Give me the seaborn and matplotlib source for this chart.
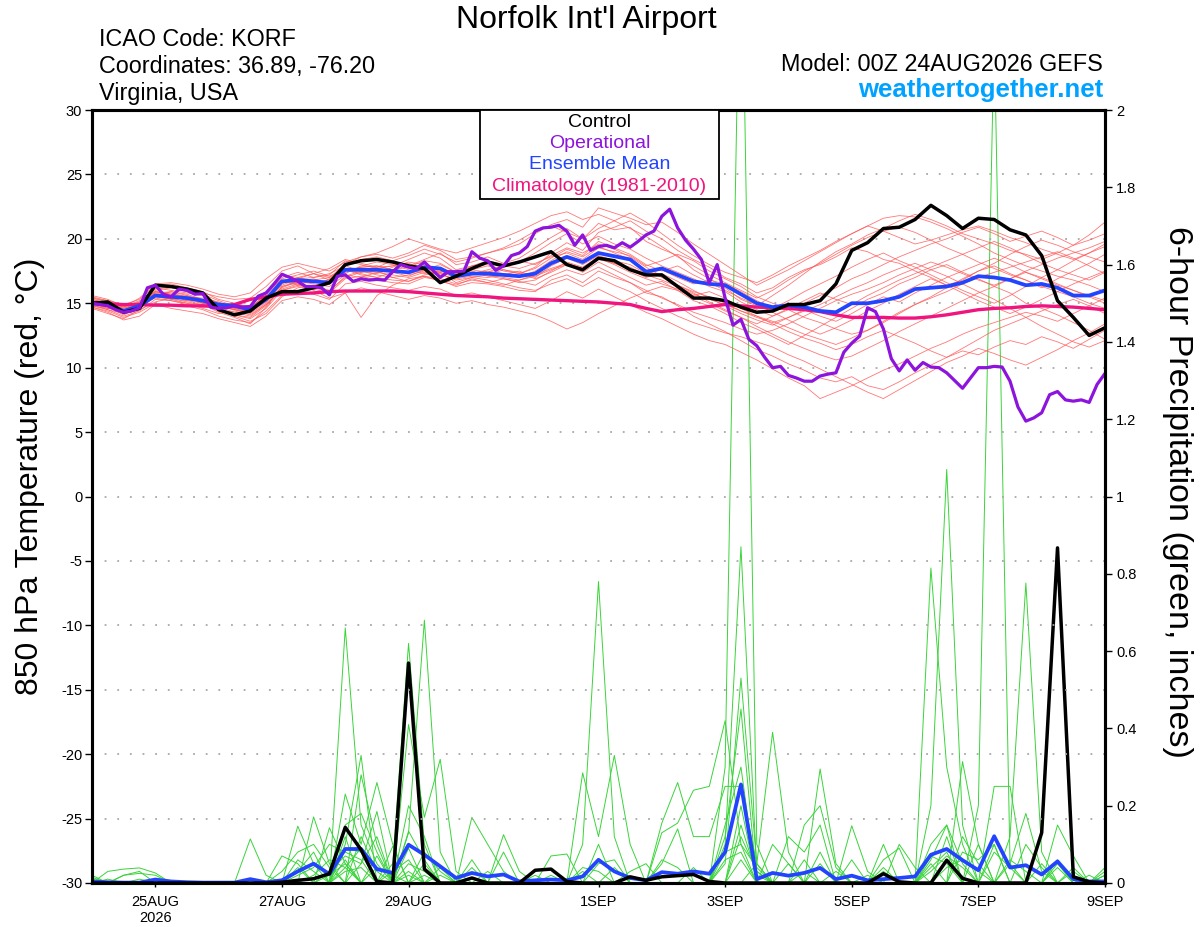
import matplotlib
matplotlib.use("Agg")

import matplotlib.pyplot as plt
from matplotlib.patches import Rectangle
import numpy as np
import pandas as pd
import seaborn as sns

# 6-hourly ensemble steps and 3-hourly operational steps, 00Z 24AUG2026 run
times = pd.date_range("2026-08-24 00:00", periods=65, freq="6h")
op_times = pd.date_range("2026-08-24 00:00", periods=129, freq="3h")

tick_dates = pd.to_datetime(["2026-08-25", "2026-08-27", "2026-08-29", "2026-09-01",
                             "2026-09-03", "2026-09-05", "2026-09-07", "2026-09-09"])
tick_labels = ["25AUG\n2026", "27AUG", "29AUG", "1SEP", "3SEP", "5SEP", "7SEP", "9SEP"]
temp_ticks = [-30, -25, -20, -15, -10, -5, 0, 5, 10, 15, 20, 25, 30]
precip_ticks = [0, 0.2, 0.4, 0.6, 0.8, 1.0, 1.2, 1.4, 1.6, 1.8, 2.0]
precip_tick_labels = ["0", "0.2", "0.4", "0.6", "0.8", "1", "1.2", "1.4", "1.6", "1.8", "2"]

# 850 hPa temperature (C)
control_temp = [
    15.0, 15.1, 14.3, 14.6, 16.4, 16.3, 16.1, 15.8, 14.5, 14.1, 14.4, 15.4, 15.9,
    15.9, 16.2, 16.6, 18.0, 18.3, 18.4, 18.2, 17.9, 17.7, 16.6, 17.1, 17.7, 18.2,
    17.9, 18.2, 18.6, 19.0, 18.0, 17.6, 18.5, 18.3, 17.6, 17.2, 17.2, 16.3, 15.4,
    15.4, 15.2, 14.7, 14.3, 14.4, 14.9, 14.9, 15.2, 16.5, 19.1, 19.7, 20.8, 20.9,
    21.5, 22.6, 21.8, 20.8, 21.6, 21.5, 20.7, 20.3, 18.7, 15.2, 13.9, 12.5, 13.1,
]
mean_temp = [
    15.0, 14.9, 14.4, 14.8, 15.6, 15.5, 15.4, 15.2, 14.9, 14.8, 14.5, 15.3, 16.7,
    16.8, 16.7, 16.6, 17.6, 17.6, 17.6, 17.5, 17.4, 17.8, 17.7, 17.1, 17.3, 17.3,
    17.2, 17.1, 17.3, 18.1, 18.6, 18.2, 18.9, 18.65, 18.4, 17.45, 17.7, 17.2, 16.7,
    16.5, 16.4, 15.7, 15.0, 14.7, 14.85, 14.7, 14.4, 14.3, 15.0, 15.0, 15.2, 15.5,
    16.1, 16.2, 16.3, 16.6, 17.1, 17.0, 16.8, 16.4, 16.5, 16.2, 15.6, 15.6, 16.0,
]
clim_temp = [
    15.0, 14.95, 14.9, 14.9, 14.85, 14.85, 14.8, 14.8, 14.75, 14.9, 15.3, 15.5, 15.7,
    15.75, 15.8, 15.9, 15.95, 15.95, 15.95, 15.95, 15.9, 15.8, 15.7, 15.6, 15.55, 15.5,
    15.4, 15.35, 15.3, 15.25, 15.2, 15.15, 15.1, 15.0, 14.9, 14.6, 14.35, 14.5, 14.6,
    14.75, 14.9, 14.8, 14.7, 14.65, 14.6, 14.5, 14.35, 14.1, 13.9, 13.9, 13.9, 13.85,
    13.85, 13.95, 14.1, 14.3, 14.5, 14.6, 14.65, 14.75, 14.8, 14.75, 14.7, 14.6, 14.5,
]
oper_temp = [
    15.0, 14.9, 14.8, 14.5, 14.3, 14.4, 14.65, 16.2, 16.4, 15.7,
    15.5, 16.1, 16.0, 15.7, 15.75, 14.7, 14.6, 14.65, 14.8, 14.7,
    14.75, 15.55, 15.8, 16.5, 17.25, 17.0, 16.7, 16.3, 16.3, 16.2,
    15.65, 17.1, 17.2, 16.7, 16.9, 16.8, 16.85, 16.8, 17.45, 18.0,
    17.8, 17.7, 18.2, 17.6, 17.0, 17.45, 17.45, 17.5, 19.0, 18.5,
    18.3, 17.55, 17.9, 18.7, 18.9, 19.4, 20.6, 20.85, 20.9, 21.05,
    20.6, 19.5, 20.3, 19.1, 19.4, 19.5, 19.3, 19.7, 19.35, 19.8,
    20.3, 20.6, 21.75, 22.3, 20.85, 19.9, 19.2, 18.4, 16.6, 18.0,
    15.4, 13.3, 13.75, 12.2, 11.7, 10.8, 10.0, 10.1, 9.4, 9.2,
    8.95, 8.95, 9.35, 9.5, 9.6, 11.2, 11.9, 12.45, 14.65, 14.35,
    13.0, 10.7, 9.75, 10.6, 9.8, 10.4, 10.05, 10.0, 9.6, 9.0,
    8.4, 9.2, 10.0, 10.0, 10.1, 10.05, 8.95, 6.95, 5.85, 6.1,
    6.5, 7.9, 8.15, 7.5, 7.4, 7.5, 7.3, 8.7, 9.55,
]

member_temps = [
    [15.3, 15.0, 14.6, 15.1, 16.2, 16.0, 15.8, 15.6, 15.0, 14.6, 14.3, 15.1, 16.4,
     16.9, 17.3, 16.8, 17.9, 18.4, 18.6, 18.3, 17.9, 18.4, 18.9, 18.0, 18.2, 18.6,
     18.1, 18.5, 19.3, 20.1, 20.8, 20.0, 21.2, 20.7, 20.9, 19.8, 19.2, 18.7, 17.6,
     16.9, 16.2, 15.3, 14.8, 15.6, 16.4, 17.3, 18.2, 19.0, 19.6, 20.3, 20.8, 21.4,
     21.9, 21.5, 21.0, 20.4, 20.0, 19.6, 19.1, 18.8, 18.4, 18.9, 19.5, 20.3, 21.3],
    [14.8, 14.5, 14.0, 14.4, 15.3, 15.2, 15.0, 14.9, 14.4, 14.1, 13.8, 14.6, 16.0,
     16.3, 16.1, 15.8, 16.9, 17.1, 16.8, 16.6, 16.5, 17.0, 16.8, 16.3, 16.6, 16.5,
     16.3, 16.0, 15.9, 16.8, 17.2, 16.6, 17.5, 17.0, 16.6, 15.8, 15.5, 14.8, 14.0,
     13.4, 12.8, 12.1, 11.4, 10.9, 10.3, 9.8, 9.2, 8.9, 9.3, 8.6, 8.3, 8.9,
     9.6, 10.2, 10.8, 11.3, 11.0, 11.6, 12.1, 11.8, 12.4, 12.0, 11.5, 12.2, 12.9],
    [15.5, 15.2, 14.9, 15.3, 16.4, 16.5, 16.2, 15.9, 15.3, 15.0, 14.7, 15.6, 17.0,
     17.4, 17.0, 17.2, 18.3, 18.0, 17.7, 17.9, 18.4, 18.9, 18.5, 17.6, 17.9, 18.0,
     17.5, 17.3, 17.8, 18.9, 19.7, 19.1, 20.5, 20.9, 21.4, 20.6, 20.0, 19.1, 18.4,
     17.8, 17.0, 16.5, 15.8, 16.2, 17.0, 17.6, 18.0, 18.6, 19.3, 19.0, 18.4, 18.1,
     17.5, 17.0, 16.4, 16.8, 17.5, 18.1, 18.8, 19.4, 19.9, 19.5, 19.0, 18.6, 18.2],
    [14.6, 14.2, 13.8, 14.5, 15.1, 15.4, 15.6, 15.0, 14.5, 14.0, 13.6, 14.2, 15.5,
     16.2, 16.4, 16.0, 17.0, 17.4, 17.5, 17.0, 16.7, 17.2, 17.4, 16.6, 17.0, 17.2,
     17.6, 17.4, 16.9, 17.4, 18.0, 17.4, 18.2, 17.6, 17.0, 16.4, 16.7, 16.0, 15.2,
     14.8, 14.2, 13.5, 13.0, 12.4, 11.8, 12.5, 13.2, 13.9, 14.6, 15.3, 15.8, 16.5,
     17.0, 17.6, 18.0, 17.4, 16.9, 16.3, 15.8, 15.0, 14.6, 14.1, 13.5, 12.9, 12.2],
    [15.1, 14.9, 14.3, 14.7, 15.8, 15.6, 15.2, 15.0, 14.8, 14.9, 14.8, 15.9, 16.8,
     16.5, 16.3, 16.9, 17.3, 17.9, 18.2, 18.0, 17.6, 17.3, 17.5, 17.2, 17.6, 17.4,
     17.9, 17.7, 18.1, 18.6, 18.9, 18.4, 19.3, 19.0, 18.7, 17.9, 18.3, 18.8, 18.3,
     17.5, 16.9, 16.3, 15.5, 15.0, 14.5, 13.9, 13.5, 13.0, 12.6, 12.9, 13.5, 14.2,
     14.9, 15.5, 16.2, 16.9, 17.5, 17.9, 17.3, 16.8, 16.2, 16.9, 17.5, 18.1, 18.8],
    [15.0, 14.7, 14.1, 14.6, 15.5, 15.3, 15.0, 14.6, 14.2, 14.4, 14.1, 14.9, 16.1,
     16.5, 16.0, 15.4, 15.8, 13.9, 15.6, 16.4, 16.9, 17.1, 16.7, 16.4, 16.9, 16.6,
     16.4, 16.8, 17.2, 17.7, 18.1, 17.7, 18.5, 18.0, 17.4, 16.9, 16.5, 16.1, 15.6,
     15.9, 15.4, 14.6, 14.0, 13.4, 12.8, 12.3, 11.9, 11.4, 11.8, 12.4, 12.9, 12.4,
     11.9, 11.3, 10.8, 11.5, 12.2, 12.9, 13.4, 13.9, 14.4, 14.9, 15.3, 14.8, 14.2],
    [15.4, 15.1, 14.7, 15.2, 16.1, 16.3, 16.0, 15.8, 15.5, 15.3, 15.4, 16.3, 17.5,
     17.9, 17.3, 17.0, 18.0, 18.6, 18.8, 18.5, 18.9, 19.5, 19.1, 18.4, 18.6, 18.9,
     19.2, 19.6, 20.4, 21.1, 21.5, 20.9, 22.4, 22.0, 21.6, 21.1, 21.3, 20.5, 19.6,
     18.8, 18.0, 17.2, 16.4, 17.0, 17.6, 18.3, 19.0, 19.7, 20.4, 21.0, 21.6, 21.8,
     21.7, 21.3, 20.8, 20.2, 19.6, 18.9, 18.4, 17.9, 17.5, 17.1, 16.8, 16.4, 15.9],
    [14.7, 14.4, 13.9, 14.3, 15.0, 14.9, 14.8, 14.5, 14.0, 13.7, 13.5, 14.4, 15.6,
     15.9, 15.7, 15.3, 16.5, 16.7, 16.4, 16.2, 16.0, 16.3, 16.1, 15.6, 15.8, 15.5,
     15.2, 14.9, 14.6, 15.2, 15.9, 15.4, 16.1, 15.5, 14.9, 14.3, 13.8, 13.2, 12.6,
     12.1, 11.8, 11.2, 10.6, 9.9, 9.2, 8.6, 7.6, 8.1, 8.6, 9.2, 9.8, 10.3,
     10.9, 11.5, 12.0, 12.6, 13.1, 13.5, 13.9, 14.3, 14.0, 13.6, 14.2, 14.8, 15.4],
    [15.2, 14.8, 14.2, 14.8, 15.7, 15.4, 15.1, 14.9, 14.3, 13.9, 13.4, 14.7, 16.3,
     16.6, 16.2, 15.9, 17.1, 17.5, 17.2, 17.0, 17.2, 17.5, 17.3, 16.8, 17.0, 16.8,
     16.5, 16.2, 16.0, 16.5, 16.9, 16.3, 17.0, 16.4, 15.9, 15.2, 14.6, 14.0, 13.5,
     13.1, 12.7, 12.4, 12.0, 11.6, 11.0, 10.5, 9.9, 9.3, 8.7, 8.1, 7.6, 8.3,
     9.0, 9.7, 10.4, 10.9, 11.5, 11.1, 10.6, 10.2, 10.8, 11.4, 12.1, 12.7, 13.4],
    [15.0, 14.6, 14.4, 14.9, 15.9, 15.7, 15.5, 15.4, 15.1, 14.7, 14.4, 15.2, 16.6,
     16.9, 17.0, 17.3, 17.9, 17.5, 17.3, 17.8, 18.2, 18.0, 17.6, 17.3, 17.9, 18.3,
     18.0, 18.2, 18.9, 19.7, 20.4, 19.6, 20.2, 19.6, 19.2, 18.5, 17.9, 17.4, 16.9,
     16.3, 15.9, 15.1, 14.5, 14.0, 14.5, 15.0, 15.6, 16.2, 16.9, 17.4, 18.0, 18.6,
     19.1, 19.6, 20.0, 20.5, 20.9, 20.4, 19.8, 20.2, 20.6, 20.1, 19.5, 19.9, 20.4],
    [14.9, 14.5, 14.2, 14.6, 15.6, 15.9, 15.7, 15.3, 14.9, 14.5, 14.3, 15.4, 16.9,
     17.2, 17.5, 17.1, 17.6, 17.3, 17.0, 17.4, 17.1, 17.6, 18.0, 17.4, 17.5, 17.1,
     16.9, 16.6, 16.8, 17.5, 18.2, 17.8, 18.6, 18.1, 17.6, 17.0, 17.3, 16.7, 16.0,
     15.4, 14.8, 14.2, 13.7, 13.3, 13.9, 14.5, 14.0, 13.6, 14.2, 14.9, 15.5, 15.1,
     15.8, 16.4, 17.0, 17.5, 18.0, 18.5, 18.0, 17.4, 16.9, 16.4, 16.0, 15.6, 15.2],
    [15.6, 15.3, 14.8, 15.0, 16.0, 16.2, 15.9, 15.7, 15.2, 14.8, 14.6, 15.8, 17.2,
     17.0, 16.7, 16.5, 17.4, 17.8, 17.9, 17.6, 17.4, 17.9, 17.7, 17.0, 17.2, 17.5,
     17.3, 17.0, 17.5, 18.3, 19.0, 18.6, 19.4, 18.9, 18.4, 17.6, 17.0, 16.4, 15.8,
     15.1, 14.5, 13.9, 13.4, 14.0, 14.6, 15.2, 15.8, 15.3, 14.9, 15.6, 16.2, 16.8,
     17.3, 17.8, 18.3, 18.8, 19.3, 19.8, 19.3, 18.7, 18.1, 17.6, 17.2, 16.8, 17.4],
    [14.8, 14.6, 14.5, 14.9, 15.4, 15.2, 14.9, 14.7, 14.7, 14.5, 14.2, 15.0, 16.2,
     16.7, 16.5, 16.3, 17.2, 17.0, 17.4, 17.2, 17.0, 17.4, 17.2, 16.9, 17.1, 17.0,
     17.2, 17.5, 17.0, 17.9, 18.5, 18.0, 18.7, 18.3, 18.0, 17.3, 17.6, 17.0, 16.5,
     16.8, 16.5, 15.9, 15.2, 14.6, 15.2, 15.9, 16.5, 17.1, 17.8, 18.4, 18.9, 18.3,
     17.8, 17.2, 16.6, 16.0, 15.5, 15.0, 15.6, 16.3, 17.0, 17.6, 18.3, 18.9, 19.6],
    [15.3, 15.0, 14.3, 14.8, 15.7, 15.5, 15.3, 15.1, 14.5, 14.1, 13.9, 14.8, 16.3,
     16.7, 16.9, 16.5, 17.5, 17.8, 17.9, 17.6, 17.8, 18.3, 18.1, 17.4, 17.6, 17.9,
     17.6, 17.3, 17.7, 18.5, 19.2, 18.7, 19.8, 19.3, 18.8, 18.0, 17.5, 17.9, 17.2,
     16.6, 16.0, 15.4, 14.9, 14.3, 13.7, 13.1, 12.6, 13.1, 13.7, 14.4, 15.0, 15.7,
     16.3, 16.9, 16.4, 15.8, 15.2, 14.7, 14.2, 14.7, 15.3, 15.9, 16.5, 17.0, 17.5],
    [15.1, 14.9, 14.6, 15.0, 15.9, 15.7, 15.4, 15.0, 14.8, 14.6, 14.5, 15.5, 16.7,
     16.4, 16.2, 16.5, 17.6, 17.2, 17.0, 16.8, 16.7, 17.1, 16.9, 16.5, 16.8, 16.6,
     16.9, 16.7, 16.4, 17.1, 17.6, 17.2, 17.8, 17.2, 16.6, 16.0, 15.4, 14.9, 14.3,
     13.9, 13.5, 13.0, 12.6, 12.9, 13.4, 14.0, 14.6, 15.2, 15.7, 16.1, 16.6, 17.2,
     17.7, 18.2, 17.8, 17.3, 16.8, 16.4, 16.9, 17.5, 18.0, 18.5, 18.9, 19.3, 19.8],
    [14.9, 14.7, 14.4, 14.7, 15.6, 15.3, 15.2, 15.2, 14.9, 14.8, 14.7, 15.5, 16.6,
     16.8, 16.6, 16.8, 17.7, 17.6, 17.4, 17.5, 17.3, 17.6, 17.4, 17.0, 17.4, 17.2,
     17.0, 16.8, 17.1, 17.6, 18.0, 17.5, 18.4, 18.1, 17.8, 17.2, 16.8, 16.3, 15.7,
     15.3, 14.9, 14.4, 14.0, 13.6, 13.1, 12.6, 12.2, 11.8, 12.3, 12.9, 13.6, 14.3,
     14.9, 15.4, 15.9, 16.5, 17.0, 17.4, 17.8, 18.2, 18.6, 19.0, 18.5, 17.9, 17.3],
    [15.2, 14.9, 14.7, 15.4, 16.5, 16.6, 16.4, 16.1, 15.7, 15.5, 15.8, 16.9, 17.8,
     18.1, 17.8, 17.5, 18.2, 18.6, 18.9, 19.4, 20.0, 19.6, 19.2, 18.9, 19.3, 19.7,
     20.1, 20.6, 21.2, 21.8, 22.1, 21.5, 21.9, 21.4, 20.8, 20.2, 19.4, 18.6, 17.9,
     17.2, 16.6, 16.0, 15.4, 16.0, 16.8, 17.5, 18.1, 18.8, 19.5, 20.1, 20.6, 20.9,
     20.5, 19.9, 19.3, 18.8, 18.2, 17.7, 17.2, 16.8, 16.3, 15.9, 15.5, 15.0, 14.6],
    [14.7, 14.3, 13.7, 14.0, 14.9, 14.6, 14.4, 14.2, 13.8, 13.5, 13.2, 14.0, 15.2,
     15.5, 15.3, 14.9, 15.8, 16.2, 15.9, 15.6, 15.3, 15.6, 15.4, 15.0, 15.2, 14.9,
     14.7, 14.4, 14.1, 13.6, 13.0, 13.5, 14.2, 14.8, 15.4, 15.9, 16.3, 16.0, 15.5,
     15.0, 14.4, 13.9, 13.2, 12.6, 12.0, 11.5, 11.0, 10.6, 10.9, 11.5, 12.1, 12.8,
     13.4, 14.0, 14.6, 15.2, 15.8, 16.3, 16.9, 17.4, 17.0, 16.5, 16.0, 15.5, 15.0],
    [15.0, 14.8, 14.5, 15.0, 15.8, 15.9, 15.6, 15.3, 14.8, 14.5, 14.4, 15.2, 16.5,
     17.0, 17.3, 17.7, 18.4, 18.1, 17.8, 18.3, 18.7, 19.2, 18.8, 18.2, 18.5, 18.9,
     19.3, 19.9, 20.6, 21.0, 20.5, 20.0, 20.8, 21.4, 22.0, 21.3, 20.4, 19.5, 18.7,
     18.0, 17.4, 17.0, 16.6, 17.2, 17.9, 18.5, 19.1, 19.8, 20.4, 21.0, 20.6, 20.1,
     19.6, 19.9, 20.3, 20.7, 21.0, 20.6, 20.1, 19.7, 19.2, 18.8, 18.4, 18.9, 19.4],
    [15.4, 15.2, 14.7, 15.1, 15.9, 15.8, 15.5, 15.2, 14.7, 14.3, 14.0, 14.9, 16.0,
     16.4, 16.8, 17.0, 17.6, 17.4, 17.8, 17.9, 18.1, 17.7, 17.5, 17.1, 17.3, 17.6,
     17.9, 18.3, 18.0, 18.7, 19.3, 18.9, 19.6, 19.2, 18.6, 17.8, 17.1, 16.4, 15.9,
     15.5, 15.0, 14.4, 13.9, 13.5, 13.9, 14.4, 14.9, 15.5, 16.1, 16.6, 17.2, 17.7,
     18.1, 17.6, 17.1, 16.5, 15.9, 15.3, 14.6, 13.9, 13.2, 12.6, 12.0, 11.6, 12.1],
]

# 6-hour precipitation (inches)
control_precip = [
    0, 0, 0, 0, 0, 0, 0, 0, 0, 0, 0, 0, 0.002,
    0.007, 0.011, 0.024, 0.144, 0.086, 0.004, 0, 0.569, 0.036, 0, 0, 0.013, 0,
    0, 0, 0.033, 0.036, 0.004, 0, 0, 0, 0.016, 0.007, 0.016, 0.019, 0.022,
    0.004, 0, 0, 0, 0, 0, 0, 0, 0, 0, 0, 0.024, 0.003,
    0, 0, 0.059, 0.012, 0, 0, 0, 0, 0.13, 0.867, 0.016, 0.003, 0,
]
mean_precip = [
    0.004, 0.002, 0.001, 0.001, 0.009, 0.004, 0.002, 0.001, 0.001, 0.001, 0.01, 0.002, 0.007,
    0.03, 0.05, 0.023, 0.088, 0.088, 0.036, 0.026, 0.099, 0.073, 0.043, 0.013, 0.026, 0.017,
    0.022, 0.004, 0.007, 0.009, 0.007, 0.017, 0.06, 0.03, 0.013, 0.007, 0.028, 0.024, 0.03,
    0.024, 0.08, 0.255, 0.01, 0.026, 0.019, 0.026, 0.039, 0.01, 0.019, 0.007, 0.01, 0.013,
    0.017, 0.073, 0.088, 0.059, 0.033, 0.121, 0.04, 0.046, 0.022, 0.056, 0.01, 0.004, 0.004,
]

member_precip = [
    [.02, 0, .02, .03, 0, 0, 0, 0, 0, 0, 0, 0, 0,
     0, 0, 0, .66, .15, .05, 0, .02, 0, 0, 0, 0, 0,
     0, 0, 0, 0, 0, 0, .10, 0, 0, 0, 0, 0, 0,
     0, .30, 2.6, .10, 0, 0, 0, 0, 0, 0, 0, 0, 0,
     0, .10, .15, 0, 0, .10, 0, 0, 0, 0, 0, 0, 0],
    [.01, 0, 0, 0, 0, 0, 0, 0, 0, 0, 0, 0, 0,
     .03, .08, 0, 0, 0, 0, .05, .62, .10, 0, 0, 0, 0,
     0, 0, 0, 0, 0, 0, 0, 0, 0, 0, 0, 0, 0,
     0, .10, .87, .03, 0, 0, 0, .05, 0, 0, 0, 0, 0,
     0, 0, 0, 0, .20, 2.2, .05, 0, 0, 0, 0, 0, 0],
    [0, 0, 0, 0, 0, 0, 0, 0, 0, 0, 0, 0, 0,
     0, 0, 0, .10, .33, 0, 0, .13, .68, .08, 0, 0, 0,
     0, 0, 0, 0, 0, .10, .78, .12, 0, 0, 0, 0, 0,
     0, 0, 0, 0, 0, 0, 0, 0, 0, 0, 0, 0, 0,
     0, .20, 1.07, .15, 0, 0, 0, 0, 0, 0, 0, 0, 0],
    [0, 0, 0, 0, 0, 0, 0, 0, 0, 0, 0, 0, 0,
     0, 0, 0, 0, .28, .10, 0, .41, .17, .32, .03, 0, 0,
     0, 0, 0, 0, 0, 0, 0, 0, 0, 0, .13, .155, .24,
     .25, .42, .10, 0, 0, 0, 0, 0, 0, 0, 0, 0, 0,
     0, 0, 0, 0, 0, 0, .12, .776, .08, 0, 0, 0, 0],
    [0, 0, 0, 0, 0, 0, 0, 0, 0, 0, 0, 0, 0,
     .147, .05, 0, .23, .10, .26, .10, 0, 0, 0, 0, 0, 0,
     0, 0, 0, 0, 0, .285, .12, .33, .10, 0, 0, 0, 0,
     0, 0, 0, 0, 0, 0, 0, 0, 0, 0, 0, 0, 0,
     0, .815, .30, .10, 0, 0, 0, 0, 0, 0, 0, 0, 0],
    [0, .01, 0, 0, 0, 0, 0, 0, 0, 0, .114, .02, 0,
     0, 0, .143, .05, 0, 0, 0, 0, 0, 0, 0, .17, .10,
     .03, 0, 0, 0, 0, 0, 0, 0, 0, 0, 0, 0, 0,
     0, .05, .53, .05, 0, 0, 0, .295, .05, 0, 0, 0, 0,
     0, 0, 0, .314, .10, 0, 0, 0, 0, 0, 0, 0, 0],
    [0, 0, 0, 0, 0, 0, 0, 0, 0, 0, 0, 0, 0,
     0, .171, .05, 0, .05, .185, 0, 0, 0, 0, 0, 0, 0,
     .125, .03, 0, 0, 0, 0, 0, 0, 0, 0, 0, 0, 0,
     0, 0, 0, .05, .39, .08, 0, 0, 0, 0, 0, 0, 0,
     0, 0, 0, 0, 0, .25, .25, 0, 0, .15, .07, 0, 0],
    [0, 0, 0, 0, 0, 0, 0, 0, 0, 0, 0, 0, .07,
     .05, 0, 0, .12, 0, 0, 0, .05, .03, 0, 0, 0, 0,
     0, 0, 0, 0, 0, 0, 0, 0, 0, 0, .155, .26, .12,
     .12, .25, .25, .05, 0, 0, 0, 0, 0, .148, .03, 0, 0,
     0, 0, 0, 0, 0, 0, 0, 0, .05, 0, 0, 0, .04],
    [0, .03, .036, .039, .026, 0, 0, 0, 0, 0, 0, 0, 0,
     0, 0, 0, .09, .08, 0, .095, 0, 0, 0, 0, 0, 0,
     0, 0, 0, .07, .075, 0, 0, 0, 0, 0, 0, 0, 0,
     0, 0, 0, 0, 0, 0, .15, .20, .04, 0, 0, 0, .10,
     .04, 0, 0, 0, .10, 0, 0, 0, 0, 0, .04, 0, 0],
    [.015, 0, .02, .025, .02, 0, 0, 0, 0, 0, 0, 0, 0,
     0, 0, 0, .06, 0, .07, 0, .134, .06, 0, 0, 0, 0,
     0, 0, 0, 0, 0, 0, 0, 0, 0, 0, 0, 0, 0,
     0, 0, 0, 0, 0, .12, .08, .15, 0, 0, 0, 0, 0,
     0, .06, .15, .05, 0, 0, 0, 0, 0, .06, 0, .02, 0],
    [0, 0, 0, 0, 0, 0, 0, 0, 0, 0, 0, 0, 0,
     .02, .04, .10, .08, .06, 0, 0, 0, 0, .04, 0, 0, .03,
     0, 0, 0, 0, 0, 0, 0, 0, 0, 0, 0, 0, 0,
     0, .15, .30, 0, 0, 0, 0, 0, 0, 0, 0, .06, .09,
     0, 0, 0, .08, .06, .10, 0, 0, 0, 0, 0, 0, .02],
    [0, 0, 0, 0, 0, 0, 0, 0, 0, 0, 0, 0, .03,
     .08, .10, .04, 0, .12, .03, 0, 0, .05, 0, 0, .06, 0,
     0, 0, 0, 0, 0, 0, 0, 0, 0, 0, 0, 0, 0,
     0, 0, .15, .02, 0, 0, 0, 0, 0, .06, 0, .10, 0,
     0, 0, .12, 0, 0, 0, .05, .18, .03, 0, 0, 0, 0],
    [0, 0, 0, 0, 0, 0, 0, 0, 0, 0, 0, 0, 0,
     0, .02, .06, .04, 0, 0, 0, .09, 0, .02, 0, 0, 0,
     .08, 0, 0, 0, 0, 0, .05, .06, 0, 0, 0, 0, 0,
     0, .12, .45, 0, 0, .05, 0, 0, 0, 0, 0, 0, 0,
     0, .04, .08, 0, 0, 0, 0, .10, .04, 0, 0, 0, 0],
    [0, 0, 0, 0, 0, 0, 0, 0, 0, 0, 0, 0, 0,
     0, 0, 0, .15, .18, .08, 0, .20, .12, 0, 0, 0, 0,
     0, 0, 0, .02, 0, 0, 0, 0, 0, 0, .05, .14, 0,
     0, 0, .20, 0, .10, .05, 0, 0, 0, 0, 0, .03, 0,
     0, 0, 0, .12, .05, 0, 0, 0, 0, .05, 0, 0, 0],
    [0, 0, 0, 0, 0, 0, 0, 0, 0, 0, 0, 0, 0,
     .04, 0, 0, .03, .04, 0, 0, .03, 0, 0, 0, 0, 0,
     0, 0, .02, 0, 0, .04, .03, 0, 0, 0, 0, 0, 0,
     0, .08, .10, .04, 0, 0, 0, .08, 0, 0, .02, 0, 0,
     0, .05, 0, 0, 0, .08, .04, 0, 0, 0, .03, 0, 0],
    [0, 0, 0, .01, 0, 0, 0, 0, 0, 0, 0, 0, 0,
     0, 0, .02, .05, 0, .04, .02, 0, .02, 0, 0, 0, 0,
     0, 0, 0, 0, 0, 0, 0, 0, .03, .05, 0, 0, .04,
     0, 0, .06, 0, 0, 0, .03, 0, 0, 0, 0, 0, 0,
     0, .03, .07, .04, 0, 0, 0, 0, 0, 0, 0, 0, .03],
    [0, 0, 0, 0, 0, 0, 0, 0, 0, 0, 0, 0, 0,
     .06, .03, 0, .04, .09, 0, .03, .06, 0, 0, 0, .04, 0,
     0, 0, 0, 0, 0, .03, 0, 0, 0, 0, .06, .04, 0,
     0, 0, .12, .03, 0, 0, .06, 0, 0, 0, 0, 0, 0,
     0, .07, .05, 0, 0, 0, .06, .03, 0, 0, 0, 0, 0],
    [0, 0, 0, 0, 0, 0, 0, 0, 0, 0, 0, 0, 0,
     0, 0, .03, .07, .05, .12, 0, 0, .08, .03, 0, 0, 0,
     0, 0, 0, 0, 0, 0, 0, .04, 0, 0, 0, 0, 0,
     0, .06, .08, 0, 0, 0, 0, 0, .03, 0, 0, .04, 0,
     0, 0, .04, .06, .03, 0, 0, 0, 0, .04, 0, 0, .02],
]

RED = "#ff5555"
GREEN = "#3ad43a"
PURPLE = "#8c14dc"
BLUE = "#2244ff"
PINK = "#f0147f"
WEB_BLUE = "#00a2ff"


def members_long(members):
    return pd.DataFrame({
        "time": np.tile(times, len(members)),
        "member": np.repeat(np.arange(len(members)), len(times)),
        "value": np.concatenate([np.asarray(m, dtype=float) for m in members]),
    })


sns.set_style("ticks")
plt.rcParams["font.family"] = ["Liberation Sans", "DejaVu Sans"]
plt.rcParams["text.color"] = "black"
plt.rcParams["xtick.color"] = "black"
plt.rcParams["ytick.color"] = "black"

fig = plt.figure(figsize=(12, 9.27), dpi=100)
ax = fig.add_axes([92 / 1200, 44 / 927, 1013 / 1200, 773 / 927])
ax2 = ax.twinx()
ax.set_zorder(ax2.get_zorder() + 1)
ax.patch.set_visible(False)

# precipitation (right axis)
sns.lineplot(data=members_long(member_precip), x="time", y="value", units="member",
             estimator=None, color=GREEN, lw=0.7, ax=ax2, legend=False)
sns.lineplot(x=times, y=mean_precip, color=BLUE, lw=2.7, ax=ax2)
sns.lineplot(x=times, y=control_precip, color="black", lw=2.5, ax=ax2)

# temperature (left axis)
sns.lineplot(data=members_long(member_temps), x="time", y="value", units="member",
             estimator=None, color=RED, lw=0.6, alpha=0.8, ax=ax, legend=False)
sns.lineplot(x=times, y=clim_temp, color=PINK, lw=2.4, ax=ax)
sns.lineplot(x=times, y=mean_temp, color=BLUE, lw=2.7, ax=ax)
sns.lineplot(x=times, y=control_temp, color="black", lw=2.5, ax=ax)
sns.lineplot(x=op_times, y=oper_temp, color=PURPLE, lw=2.3, ax=ax)

ax.set_xlim(times[0], times[-1])
ax.set_ylim(-30, 30)
ax2.set_ylim(0, 2)

ax.set_xticks(tick_dates)
ax.set_xticklabels(tick_labels, linespacing=1.15)
ax.set_yticks(temp_ticks)
ax.set_yticklabels([str(t) for t in temp_ticks])
ax2.set_yticks(precip_ticks)
ax2.set_yticklabels(precip_tick_labels)
ax.set_xlabel("")
ax.set_ylabel("")
ax2.set_ylabel("")

ax.yaxis.grid(True, color="#a8a8a8", linestyle=(0, (1, 6)), lw=1.3)
ax.tick_params(axis="y", direction="out", length=5, width=1, pad=2, labelsize=10.5)
ax.tick_params(axis="x", direction="out", length=3, width=1, pad=6, labelsize=10.5)
ax2.tick_params(axis="y", direction="out", length=5, width=1, pad=3, labelsize=10.5)

for a in (ax, ax2):
    for spine in a.spines.values():
        spine.set_linewidth(2.2)
        spine.set_color("black")

# text legend box at the top of the plot
ax.add_patch(Rectangle((0.383, 0.885), 0.236, 0.115, transform=ax.transAxes,
                       facecolor="white", edgecolor="black", lw=1.3, zorder=10))
legend_rows = [("Control", "black"), ("Operational", PURPLE),
               ("Ensemble Mean", BLUE), ("Climatology (1981-2010)", PINK)]
for k, (label, colour) in enumerate(legend_rows):
    ax.text(0.501, 0.9784 - k * 0.0276, label, color=colour, fontsize=14,
            ha="center", va="baseline", transform=ax.transAxes, zorder=11)

# header
fig.text(586 / 1200, 1 - 28 / 927, "Norfolk Int'l Airport", fontsize=23,
         ha="center", va="baseline")
for k, line in enumerate(["ICAO Code: KORF", "Coordinates: 36.89, -76.20", "Virginia, USA"]):
    fig.text(99 / 1200, 1 - (46 + 27 * k) / 927, line, fontsize=16.8, ha="left", va="baseline")
fig.text(1103 / 1200, 1 - 71 / 927, "Model: 00Z 24AUG2026 GEFS", fontsize=16.8,
         ha="right", va="baseline")
fig.text(1103 / 1200, 1 - 97 / 927, "weathertogether.net", fontsize=18.5, fontweight="bold",
         color=WEB_BLUE, ha="right", va="baseline")

# axis titles
fig.text(30 / 1200, 1 - 476 / 927, "850 hPa Temperature (red, °C)", fontsize=23,
         rotation=90, ha="center", va="center")
fig.text(1177 / 1200, 1 - 492 / 927, "6-hour Precipitation (green, inches)", fontsize=24.5,
         rotation=-90, ha="center", va="center")

fig.savefig("out.png", dpi=100)
plt.close(fig)
print("Saved out.png")
